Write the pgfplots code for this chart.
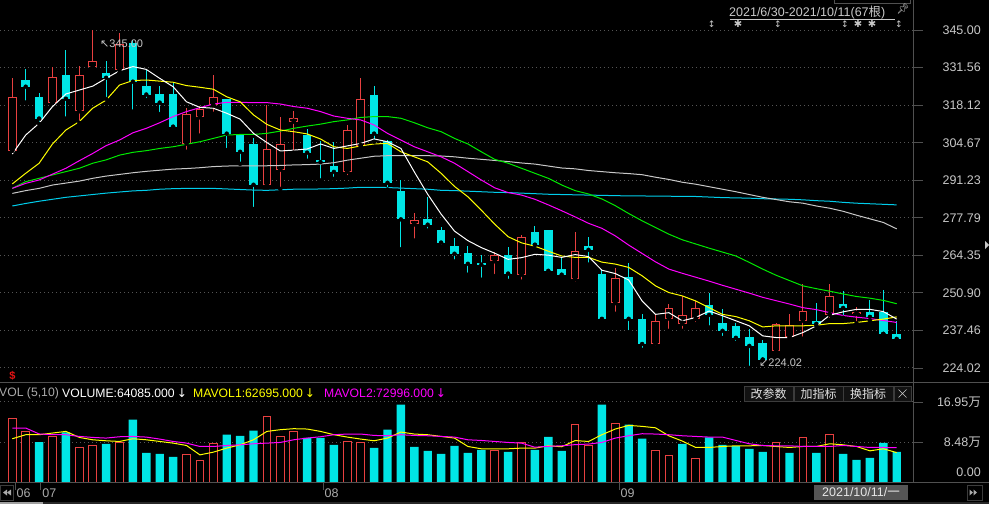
\documentclass[border=0pt]{standalone}
\usepackage{fontspec}
\setmainfont{Liberation Sans}
\newfontfamily\cjk{Noto Sans CJK SC}
\newfontfamily\sym{DejaVu Sans}
\newfontfamily\emo{Noto Emoji}
\usepackage{pgfplots}
\usepackage{pgfplotstable}
\pgfplotsset{compat=1.18}

\definecolor{upred}{RGB}{232,64,64}
\definecolor{dncyan}{RGB}{0,230,230}
\definecolor{mafive}{RGB}{255,255,255}
\definecolor{maten}{RGB}{255,255,0}
\definecolor{matwenty}{RGB}{255,0,255}
\definecolor{mathirty}{RGB}{0,235,0}
\definecolor{masixty}{RGB}{200,200,200}
\definecolor{maonetwenty}{RGB}{0,205,235}
\definecolor{gridgray}{RGB}{85,85,85}
\definecolor{axgray}{RGB}{80,80,80}
\definecolor{lab}{RGB}{200,200,200}
\definecolor{datelab}{RGB}{170,170,170}
\definecolor{btnfill}{RGB}{18,18,18}
\definecolor{btnborder}{RGB}{60,60,60}
\definecolor{btntext}{RGB}{225,225,225}
\definecolor{datebox}{RGB}{85,85,85}
\definecolor{datetext}{RGB}{230,230,230}
\definecolor{scrolldark}{RGB}{40,40,40}
\definecolor{scrolllight}{RGB}{160,160,160}
\definecolor{dollarred}{RGB}{230,20,20}

% candles: i open high low close
\pgfplotstableread{
i o h l c
1 301.8 327.8 301.8 320.9
4 319.0 331.6 319.0 328.0
6 315.9 332.1 311.8 328.8
7 331.6 345.0 331.6 333.8
9 330.7 343.9 329.7 340.0
14 304.3 317.1 301.4 314.8
15 313.7 317.8 307.2 316.7
16 318.0 328.9 315.0 320.9
20 289.4 318.0 289.3 302.3
21 295.0 313.8 288.1 304.1
22 312.2 316.0 301.1 313.4
26 294.3 310.9 292.3 309.1
27 303.5 327.8 303.5 320.2
31 275.4 279.5 269.6 276.9
37 262.2 265.5 256.9 264.3
39 257.4 271.6 254.9 270.8
43 255.7 272.7 254.1 265.9
46 247.2 259.8 243.4 256.1
49 232.7 243.5 231.2 240.9
50 241.7 246.8 237.3 245.6
51 239.9 249.8 237.3 243.0
52 241.5 248.0 239.7 245.6
58 230.1 240.2 230.1 239.9
59 235.0 243.5 234.3 239.4
60 240.9 253.9 234.5 244.4
62 243.0 253.9 241.2 249.9
64 243.4 245.9 240.0 244.1
}\upc

\pgfplotstableread{
i o h l c
2 327.1 331.0 319.0 324.7
3 320.9 322.3 311.4 313.3
5 328.9 337.8 313.3 320.4
8 329.6 333.9 320.3 327.9
10 340.2 341.4 315.8 326.5
11 324.9 330.9 319.9 321.9
12 322.1 324.9 314.9 319.0
13 322.1 325.9 309.9 310.4
17 320.3 320.3 302.0 307.9
18 307.6 307.6 297.1 301.4
19 304.2 306.5 280.9 289.6
23 307.5 309.4 298.2 301.1
24 298.4 305.1 291.1 297.7
25 296.3 304.8 291.7 294.2
28 321.6 324.9 305.0 307.9
29 305.1 305.5 287.9 290.3
30 287.4 291.2 266.5 277.2
32 277.2 285.3 273.2 275.3
33 273.4 274.5 267.4 268.9
34 267.7 270.4 262.1 264.9
35 265.2 267.7 257.4 261.3
36 261.6 264.3 255.6 261.0
38 264.3 267.3 255.2 257.8
40 272.6 274.8 268.1 268.1
41 273.4 273.4 257.4 258.8
42 259.4 263.6 256.2 257.4
44 267.7 270.9 261.0 266.3
45 257.6 259.3 240.6 241.6
47 256.5 261.7 236.8 241.6
48 241.7 243.2 230.5 232.6
53 246.5 251.0 238.5 243.0
54 240.0 245.0 234.7 237.3
55 239.0 240.0 233.0 234.8
56 235.0 238.1 224.02 231.9
57 232.9 234.2 227.0 227.0
61 240.9 247.2 239.1 239.8
63 246.8 251.7 242.0 245.5
65 244.1 248.3 240.9 242.3
66 244.1 251.8 236.2 236.2
67 236.2 241.0 233.9 234.4
}\dnc

% moving averages of price
\pgfplotstableread{
i m5 m10 m20 m30 m60 m120
1 300.6 289.9 288.3 288.3 286.5 282.0
2 307.4 293.7 290.1 290.7 287.5 282.9
3 311.6 297.3 291.3 291.9 288.3 283.7
4 317.6 304.2 293.4 293.1 289.5 284.4
5 322.1 309.2 295.5 294.3 290.2 285.1
6 323.5 312.2 298.2 295.5 290.9 285.6
7 324.9 317.0 300.8 297.3 291.9 286.1
8 327.7 319.9 303.6 298.5 292.7 286.6
9 330.4 325.3 305.6 300.2 293.3 287.0
10 331.9 326.9 308.2 301.2 293.9 287.4
11 330.9 327.1 309.8 301.8 294.4 287.6
12 327.7 326.7 311.8 302.6 294.8 288.0
13 324.7 326.3 314.0 303.2 295.2 288.2
14 319.3 325.1 315.8 304.1 295.4 288.3
15 317.3 324.5 317.2 305.0 295.7 288.3
16 317.0 323.8 318.5 306.2 296.1 288.3
17 315.2 321.1 319.1 307.4 296.3 288.1
18 313.1 319.3 319.1 307.6 296.4 287.9
19 308.0 314.6 319.0 307.6 296.4 287.7
20 304.7 311.2 319.0 308.0 296.4 287.6
21 301.7 309.2 318.5 308.8 296.5 287.8
22 302.0 308.6 317.6 309.8 296.7 288.0
23 302.4 307.8 317.0 310.6 296.8 288.0
24 304.2 306.0 315.8 311.3 297.0 288.1
25 302.6 303.2 314.2 312.2 297.5 288.2
26 303.5 302.6 313.4 312.8 298.4 288.4
27 304.4 303.5 312.8 313.7 299.1 288.7
28 306.0 304.2 311.0 314.0 299.8 288.7
29 305.0 304.4 308.0 314.0 300.0 288.6
30 302.6 301.4 305.6 313.4 300.0 288.4
31 294.2 299.6 303.2 311.8 300.0 288.2
32 286.2 297.8 301.4 310.0 300.0 288.0
33 279.1 293.7 299.6 308.6 299.9 287.6
34 273.0 289.0 297.3 306.2 299.6 287.5
35 269.6 285.3 294.3 304.2 299.1 287.3
36 267.1 280.5 291.3 301.4 298.7 287.1
37 265.1 275.5 288.5 298.7 298.3 286.9
38 262.9 271.0 286.8 297.3 297.9 286.8
39 263.5 268.8 285.9 295.5 297.4 286.6
40 264.7 267.6 284.4 293.7 297.0 286.4
41 264.4 265.8 282.4 291.9 296.3 286.2
42 263.6 264.1 280.3 289.5 295.6 286.1
43 264.6 263.6 278.1 287.5 295.3 286.0
44 263.9 263.6 275.8 286.3 294.7 285.9
45 259.0 261.9 274.0 284.5 294.3 285.8
46 257.8 261.2 271.3 282.1 293.9 285.7
47 255.5 260.0 268.0 279.3 293.6 285.6
48 248.0 257.0 265.0 276.7 293.2 285.6
49 243.2 253.4 262.0 274.3 292.3 285.5
50 243.8 251.0 259.4 271.9 291.5 285.5
51 240.9 249.8 257.9 269.9 290.5 285.4
52 242.1 248.0 256.5 268.4 289.8 285.4
53 244.4 245.6 255.1 266.9 288.9 285.2
54 242.7 243.2 253.6 265.5 288.0 285.0
55 240.9 242.4 252.2 264.1 287.1 284.9
56 239.1 240.9 250.8 261.8 286.1 284.8
57 235.5 238.7 249.3 259.4 285.1 284.6
58 234.9 239.1 248.1 257.2 284.3 284.5
59 234.9 239.1 246.9 255.3 283.5 284.4
60 236.7 239.1 245.6 253.4 283.0 284.2
61 239.1 239.3 244.9 252.4 282.0 283.9
62 242.9 239.9 243.8 251.5 281.2 283.7
63 244.1 239.9 242.8 250.5 280.1 283.3
64 245.0 240.3 242.2 249.6 278.7 283.0
65 245.0 240.9 241.7 249.0 277.4 282.8
66 244.2 241.5 241.0 248.2 276.1 282.6
67 241.5 242.3 240.3 247.0 273.8 282.4
}\matab

% volume (in 10k) : rising and falling days
\pgfplotstableread{
i v
1 13.43
2 10.74
4 9.68
6 7.42
7 7.70
9 8.48
14 5.94
15 4.52
16 8.27
20 13.78
21 9.75
22 10.81
26 8.69
27 8.48
37 6.78
39 8.41
43 12.30
44 7.70
46 12.51
49 6.78
50 5.72
52 5.09
58 8.34
60 9.54
62 10.18
}\volup

\pgfplotstableread{
i v
3 8.48
5 10.53
8 8.13
10 13.22
11 6.22
12 6.01
13 5.37
17 10.04
18 9.82
19 10.88
23 9.40
24 9.40
25 7.92
28 7.28
29 11.10
30 16.40
31 7.49
32 6.64
33 6.01
34 7.70
35 6.22
36 6.86
38 6.43
40 6.86
41 9.61
42 6.64
45 16.40
47 12.16
48 9.19
51 8.13
53 9.47
54 7.92
55 7.63
56 7.07
57 6.43
59 6.22
61 6.22
63 6.01
64 4.73
65 5.16
66 8.34
67 6.41
}\voldn

\pgfplotstableread{
i y m
1 9.19 11.45
2 10.04 11.45
3 10.04 10.20
4 10.39 10.04
5 10.74 10.04
6 9.47 9.68
7 8.97 9.47
8 8.76 9.33
9 8.62 9.61
10 9.19 9.68
11 8.97 9.54
12 8.62 9.12
13 8.27 8.62
14 7.77 8.27
15 5.79 7.56
16 6.36 7.56
17 7.21 7.77
18 7.91 7.91
19 8.97 8.13
20 10.74 8.27
21 11.10 8.41
22 11.31 8.97
23 11.24 9.33
24 10.74 9.61
25 10.04 10.04
26 9.54 10.18
27 9.12 10.18
28 8.76 9.89
29 9.33 9.82
30 10.60 10.04
31 10.18 9.89
32 10.04 9.82
33 9.68 9.68
34 9.33 9.54
35 7.56 8.97
36 7.07 8.83
37 7.07 8.62
38 7.07 8.41
39 7.21 8.27
40 7.21 7.40
41 7.70 7.60
42 7.50 7.70
43 8.80 7.95
44 8.62 8.06
45 10.04 8.41
46 11.24 9.33
47 12.01 9.82
48 11.80 10.25
49 11.50 10.18
50 9.80 10.04
51 8.70 9.82
52 7.35 9.68
53 7.35 9.54
54 7.56 9.54
55 7.70 8.83
56 7.70 8.13
57 7.77 7.77
58 7.56 7.70
59 7.35 7.70
60 7.56 7.56
61 7.56 7.56
62 8.13 7.56
63 7.91 7.77
64 7.56 7.56
65 6.64 7.35
66 7.07 7.35
67 6.27 7.30
}\volma

\pgfplotsset{
  panel/.style={
    scale only axis, width=913pt,
    xmin=0.082, xmax=68.216,
    axis line style={draw=none},
    xtick=\empty, yticklabel=\empty,
    major tick length=0pt,
    ymajorgrids,
    grid style={gridgray, line width=1pt, dash pattern=on 1pt off 3pt},
  },
  wick/.style={only marks, mark=none, forget plot,
    error bars/.cd, y dir=plus, y explicit, error mark=none,
    error bar style={draw=#1, line width=1pt, solid}},
  body/.style 2 args={only marks, mark=none, forget plot,
    error bars/.cd, y dir=plus, y explicit, error mark=none,
    error bar style={draw=#1, line width=#2, solid}},
}

\begin{document}
\begin{tikzpicture}
\fill[black] (0pt,0pt) rectangle (989pt,-504pt);

% ---- price panel ----
\begin{axis}[panel,
  at={(0pt,-378pt)}, anchor=south west,
  height=358pt, ymin=220.416, ymax=348.58,
  ytick={224.02,237.46,250.90,264.35,277.79,291.23,304.67,318.12,331.56,345.00},
]
% wicks
\addplot[wick=upred] table[x=i, y=l, y error plus expr={\thisrow{h}-\thisrow{l}}] {\upc};
\addplot[wick=dncyan] table[x=i, y=l, y error plus expr={\thisrow{h}-\thisrow{l}}] {\dnc};
% bodies
\addplot[body={upred}{8.7pt}] table[x=i, y=o, y error plus expr={\thisrow{c}-\thisrow{o}}] {\upc};
\addplot[body={black}{6.7pt}] table[x=i, y expr={\thisrow{o}+0.36}, y error plus expr={\thisrow{c}-\thisrow{o}-0.72}] {\upc};
\addplot[body={dncyan}{8.7pt}] table[x=i, y=c, y error plus expr={\thisrow{o}-\thisrow{c}}] {\dnc};
% moving averages
\addplot[maonetwenty, line width=1pt] table[x=i, y=m120] {\matab};
\addplot[masixty, line width=1pt] table[x=i, y=m60] {\matab};
\addplot[mathirty, line width=1pt] table[x=i, y=m30] {\matab};
\addplot[matwenty, line width=1pt] table[x=i, y=m20] {\matab};
\addplot[maten, line width=1pt] table[x=i, y=m10] {\matab};
\addplot[mafive, line width=1pt] table[x=i, y=m5] {\matab};
\end{axis}

% ---- volume panel ----
\begin{axis}[panel,
  at={(0pt,-482.3pt)}, anchor=south west,
  height=99.3pt, ymin=0, ymax=20.95,
  ytick={8.48,16.95},
]
\addplot[ybar, bar width=7.6pt, bar shift=0pt, draw=upred, fill=black, line width=1pt] table[x=i, y=v] {\volup};
\addplot[ybar, bar width=8.4pt, bar shift=0pt, draw=none, fill=dncyan] table[x=i, y=v] {\voldn};
\addplot[maten, line width=1pt] table[x=i, y=y] {\volma};
\addplot[matwenty, line width=1pt] table[x=i, y=m] {\volma};
\end{axis}

% ---- frame, labels, widgets (pixel coordinates, y downwards) ----
\begin{scope}[x=1pt, y=-1pt, font=\fontsize{12.5}{15}\selectfont]
\draw[axgray, line width=1pt] (913,0) -- (913,482);
\draw[axgray, line width=1pt] (0,382) -- (989,382);
\draw[axgray, line width=1pt] (0,482.5) -- (989,482.5);
\draw[axgray] (834,-1) rectangle (910,3);

\foreach \v/\yy in {345.00/30.0, 331.56/67.6, 318.12/105.1, 304.67/142.7, 291.23/180.2,
                    277.79/217.8, 264.35/255.3, 250.90/292.9, 237.46/330.4, 224.02/368.0} {
  \draw[axgray, line width=1pt] (913,\yy) -- (923,\yy);
  \node[anchor=east, text=lab, inner sep=0pt] at (981,\yy) {\v};
}
\draw[axgray, line width=1pt] (913,402) -- (923,402);
\draw[axgray, line width=1pt] (913,442.1) -- (923,442.1);
\node[anchor=east, text=lab, inner sep=0pt] at (981,402) {16.95{\cjk 万}};
\node[anchor=east, text=lab, inner sep=0pt] at (981,442.5) {8.48{\cjk 万}};
\node[anchor=east, text=lab, inner sep=0pt] at (981,472) {0.00};
\fill[lab] (985,241) -- (989,245) -- (985,249) -- cycle;

% title of the range
\node[anchor=west, text=lab, inner sep=0pt] at (729,12.5) {2021/6/30-2021/10/11(67{\cjk 根})};
\draw[lab] (729.5,19) -- (895,19);
\node[text=lab!70, inner sep=0pt] at (903,9) {\emo\fontsize{10}{10}\selectfont 📌};
\foreach \xx in {711.7,778,845,899} \node[text=lab, inner sep=0pt] at (\xx,24) {\sym\fontsize{9}{9}\selectfont ↕};
\foreach \xx in {738,858,872} \node[text=lab, inner sep=0pt] at (\xx,24) {\sym\fontsize{10}{10}\selectfont ✱};

% extreme annotations
\node[anchor=west, text=lab, inner sep=0pt] at (100,43.5) {\fontsize{11}{12}\selectfont{\sym ↖}345.00};
\node[anchor=west, text=lab, inner sep=0pt] at (759,363) {\fontsize{11}{12}\selectfont{\sym ↙}224.02};
\node[text=dollarred, inner sep=0pt] at (12.5,376) {\fontsize{11}{12}\selectfont\bfseries\$};

% volume header
\begin{scope}[font=\fontsize{12.2}{14}\selectfont]
\node[anchor=west, text=datelab, inner sep=0pt] at (-1,393.5) {VOL (5,10)};
\node[anchor=west, text=white, inner sep=0pt] at (62,393.5) {VOLUME:64085.000\,{\sym ↓}};
\node[anchor=west, text=maten, inner sep=0pt] at (193,393.5) {MAVOL1:62695.000\,{\sym ↓}};
\node[anchor=west, text=matwenty, inner sep=0pt] at (324,393.5) {MAVOL2:72996.000\,{\sym ↓}};
\end{scope}

% buttons
\foreach \a/\b/\t in {744/793/改参数, 794/843/加指标, 843/893/换指标} {
  \draw[btnborder, fill=btnfill] (\a,386) rectangle (\b,401);
  \node[text=btntext, inner sep=0pt] at ({(\a+\b)/2},393.5) {\cjk\fontsize{12}{12}\selectfont \t};
}
\draw[btnborder, fill=btnfill] (894,386) rectangle (911,401);
\draw[lab] (898.5,389.5) -- (906.5,397.5) (898.5,397.5) -- (906.5,389.5);

% date strip
\foreach \xx/\t in {15/06, 40.7/07, 323/08, 619/09} {
  \draw[axgray, line width=1pt] (\xx,482) -- (\xx,490);
  \node[anchor=west, text=datelab, inner sep=0pt] at (\xx+1.5,493) {\t};
}
\draw[btnborder] (0.5,485) rectangle (13,500);
\fill[datelab] (3,492.5) -- (7,489.5) -- (7,495.5) -- cycle;
\fill[datelab] (7,492.5) -- (11,489.5) -- (11,495.5) -- cycle;
\draw[btnborder] (967,485) rectangle (982,500);
\fill[datelab] (973,492.5) -- (969.5,489.5) -- (969.5,495.5) -- cycle;
\fill[datelab] (977,492.5) -- (973.5,489.5) -- (973.5,495.5) -- cycle;
\fill[datebox] (814,485) rectangle (908,500);
\node[text=datetext, inner sep=0pt] at (861,492.5) {2021/10/11/{\cjk 一}};
\fill[scrolldark] (0,501.5) rectangle (989,504);
\fill[scrolllight] (0,501.5) rectangle (43,504);
\end{scope}

\pgfresetboundingbox
\useasboundingbox (0pt,0pt) rectangle (989pt,-504pt);
\end{tikzpicture}
\end{document}
